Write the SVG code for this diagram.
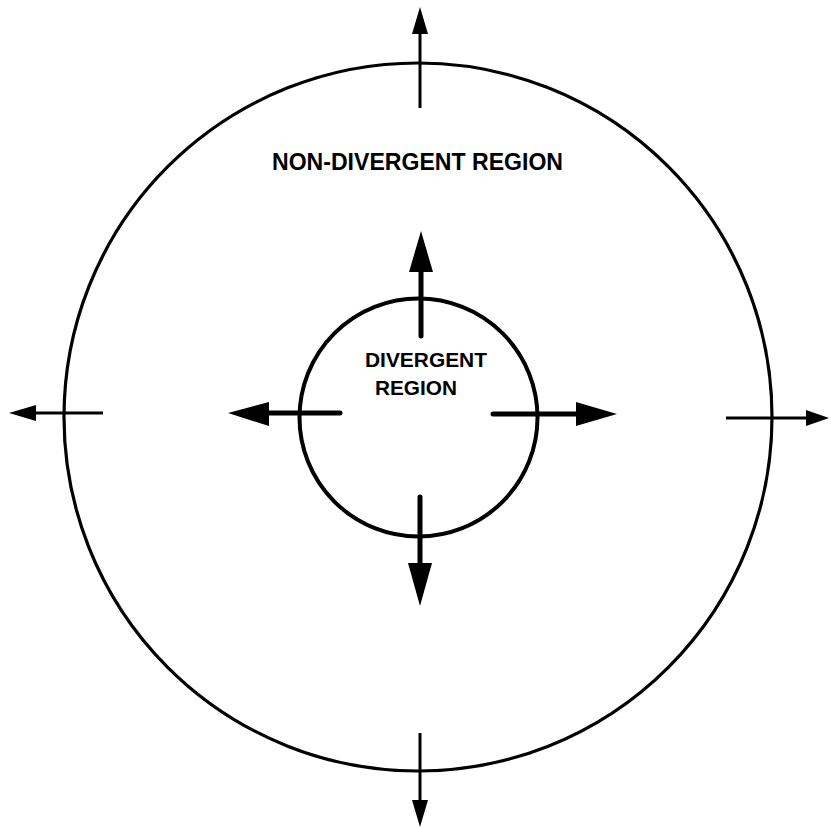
<svg xmlns="http://www.w3.org/2000/svg" width="831" height="828" viewBox="0 0 831 828">
<style>
.ring{fill:none;stroke:#000}
.thin{stroke:#000;stroke-width:3;fill:none}
.thick{stroke:#000;stroke-width:5;stroke-linecap:round;fill:none}
.head{fill:#000;stroke:none}
text{font-family:"Liberation Sans",Arial,sans-serif;font-weight:bold;fill:#000}
</style>
<rect width="831" height="828" fill="#fff"/>
<g id="outer-region">
<circle class="ring" cx="418" cy="417" r="354" stroke-width="3.2"/>
<text x="417.5" y="170" font-size="23" text-anchor="middle" textLength="291" lengthAdjust="spacingAndGlyphs">NON-DIVERGENT REGION</text>
</g>
<g id="inner-region">
<circle class="ring" cx="418.5" cy="417.5" r="119" stroke-width="4"/>
<text x="365" y="367" font-size="20" textLength="122" lengthAdjust="spacingAndGlyphs">DIVERGENT</text>
<text x="375" y="395" font-size="20.5" textLength="82" lengthAdjust="spacingAndGlyphs">REGION</text>
</g>
<g id="connectors">
<line class="thin" x1="420" y1="30" x2="420" y2="108"/>
<polygon class="head" points="420,7 412,34 428,34"/>
<line class="thin" x1="32" y1="413" x2="103" y2="413"/>
<polygon class="head" points="9,413 36,405 36,421"/>
<line class="thin" x1="726" y1="418" x2="810" y2="418"/>
<polygon class="head" points="829,418 806,410 806,426"/>
<line class="thin" x1="420" y1="733" x2="420" y2="803"/>
<polygon class="head" points="420,827 412,800 428,800"/>
<line class="thick" x1="421" y1="266" x2="421" y2="336"/>
<polygon class="head" points="421,231 409,272 433,272"/>
<line class="thick" x1="264" y1="413" x2="340" y2="413"/>
<polygon class="head" points="228,413 269,402 269,426"/>
<line class="thick" x1="493" y1="414" x2="580" y2="414"/>
<polygon class="head" points="617,414 576,402 576,426"/>
<line class="thick" x1="420" y1="497" x2="420" y2="568"/>
<polygon class="head" points="420,606 408,563 432,563"/>
</g>
</svg>
